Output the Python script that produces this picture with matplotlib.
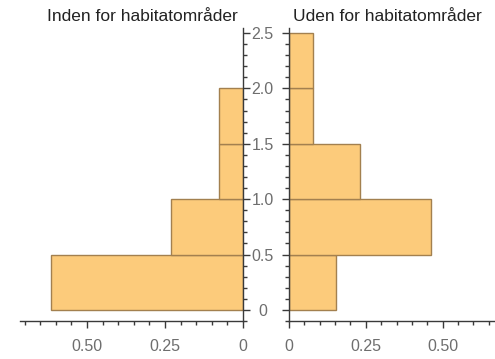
import matplotlib
matplotlib.use("Agg")
import matplotlib.pyplot as plt
from matplotlib.ticker import MultipleLocator, FuncFormatter

# histogram bins (depth) and fractions
bins_in = [0.0, 0.5, 1.0, 1.5]
inside = [8/13, 3/13, 1/13, 1/13]          # Inden for habitatområder
bins_out = [0.0, 0.5, 1.0, 1.5, 2.0]
outside = [2/13, 6/13, 3/13, 1/13, 1/13]   # Uden for habitatområder

titles = ["Inden for habitatområder", "Uden for habitatområder"]

plt.rcParams["font.family"] = ["Liberation Sans", "DejaVu Sans"]

face = "#fccb7b"
edge = "#a3804f"
spine_c = "#3a3a3a"
label_c = "#6e6e6e"

fig = plt.figure(figsize=(4.95, 3.59), dpi=100)
axL = fig.add_axes([20/495, 38/359, 223/495, 293.5/359])
axR = fig.add_axes([289/495, 38/359, 206/495, 293.5/359])

axL.barh(bins_in, inside, height=0.5, align="edge",
         color=face, edgecolor=edge, linewidth=1)
axR.barh(bins_out, outside, height=0.5, align="edge",
         color=face, edgecolor=edge, linewidth=1)

ylim = (-0.1, 2.55)
axL.set_xlim(0.715, 0)
axR.set_xlim(0, 0.67)
for ax in (axL, axR):
    ax.set_ylim(*ylim)
    ax.spines["top"].set_visible(False)
    ax.xaxis.set_major_locator(MultipleLocator(0.25))
    ax.xaxis.set_minor_locator(MultipleLocator(0.05))
    ax.yaxis.set_major_locator(MultipleLocator(0.5))
    ax.yaxis.set_minor_locator(MultipleLocator(0.1))
    ax.xaxis.set_major_formatter(FuncFormatter(lambda v, p: "0" if v == 0 else f"{v:.2f}"))
    ax.tick_params(axis="both", which="major", length=5, width=1, color=spine_c,
                   labelcolor=label_c, labelsize=11.5, direction="out")
    ax.tick_params(axis="both", which="minor", length=3, width=1, color=spine_c,
                   direction="out")
    ax.tick_params(axis="x", pad=8)
    for s in ("left", "right", "bottom"):
        ax.spines[s].set_color(spine_c)
        ax.spines[s].set_linewidth(1)

axL.spines["left"].set_visible(False)
axL.yaxis.tick_right()
axL.tick_params(axis="y", which="both", labelright=False)

axR.spines["right"].set_visible(False)
axR.yaxis.tick_left()
axR.yaxis.set_major_formatter(FuncFormatter(lambda v, p: "0" if v == 0 else f"{v:.1f}"))
for lab in axR.get_yticklabels():
    lab.set_horizontalalignment("center")
axR.tick_params(axis="y", which="major", pad=14)

axL.set_title(titles[0], loc="right", fontsize=12.5, color="#222222", pad=5, x=0.978)
axR.set_title(titles[1], loc="left", fontsize=12.5, color="#222222", pad=5, x=0.02)

fig.savefig("out.png", dpi=100)
